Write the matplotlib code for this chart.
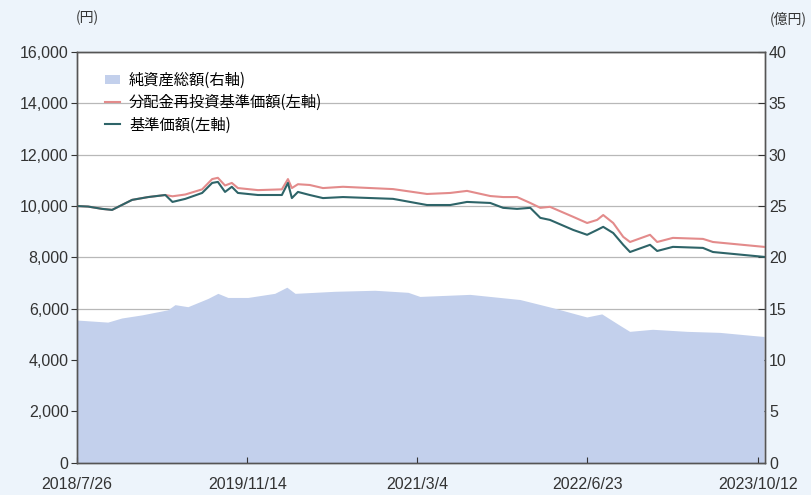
import matplotlib.pyplot as plt
import matplotlib.dates as mdates
import pandas as pd

plt.rcParams['font.family'] = ['Liberation Sans', 'Noto Sans CJK JP', 'DejaVu Sans']

# 基準価額 / 分配金再投資基準価額 (左軸, 円)
line_dates = ["2018-07-26", "2018-08-26", "2018-10-04", "2018-11-01", "2018-12-27",
              "2019-02-10", "2019-03-30", "2019-04-19", "2019-05-25", "2019-07-11",
              "2019-08-08", "2019-08-24", "2019-09-13", "2019-10-02", "2019-10-19",
              "2019-12-14", "2020-02-19", "2020-03-07", "2020-03-18", "2020-04-04",
              "2020-05-07", "2020-06-13", "2020-08-08", "2020-12-26", "2021-03-31",
              "2021-06-04", "2021-07-21", "2021-09-24", "2021-10-30", "2021-12-08",
              "2022-01-14", "2022-02-11", "2022-03-10", "2022-05-14", "2022-06-22",
              "2022-07-20", "2022-08-06", "2022-09-03", "2022-10-01", "2022-10-20",
              "2022-12-15", "2023-01-04", "2023-02-17", "2023-05-12", "2023-06-09",
              "2023-10-30"]
nav = [10000, 9980, 9890, 9850, 10240,
       10350, 10430, 10160, 10280, 10510,
       10900, 10940, 10550, 10750, 10510,
       10430, 10430, 10900, 10310, 10550,
       10430, 10310, 10350, 10280, 10040,
       10040, 10160, 10120, 9930, 9890,
       9930, 9540, 9460, 9070, 8880,
       9070, 9190, 8950, 8490, 8210,
       8490, 8250, 8410, 8370, 8210,
       8020]
nav_reinv = [10000, 9980, 9890, 9850, 10240,
             10350, 10430, 10380, 10450, 10650,
             11050, 11100, 10800, 10900, 10700,
             10620, 10650, 11050, 10700, 10850,
             10820, 10700, 10750, 10660, 10470,
             10510, 10590, 10390, 10350, 10350,
             10120, 9930, 9970, 9580, 9340,
             9460, 9650, 9340, 8800, 8600,
             8880, 8600, 8760, 8720, 8600,
             8410]

# 純資産総額 (右軸, 億円)
asset_dates = ["2018-07-26", "2018-10-20", "2018-11-28", "2019-01-23", "2019-04-06",
               "2019-04-26", "2019-06-01", "2019-07-27", "2019-08-24", "2019-09-21",
               "2019-11-16", "2020-01-30", "2020-03-04", "2020-03-27", "2020-07-16",
               "2020-11-05", "2021-02-06", "2021-03-11", "2021-07-29", "2021-12-16",
               "2022-03-18", "2022-06-21", "2022-08-02", "2022-09-21", "2022-10-19",
               "2022-12-22", "2023-03-28", "2023-06-28", "2023-09-28", "2023-10-30"]
assets = [13.9, 13.7, 14.1, 14.4, 14.9,
          15.4, 15.2, 16.0, 16.5, 16.1,
          16.1, 16.5, 17.1, 16.5, 16.7,
          16.8, 16.6, 16.2, 16.4, 15.9,
          15.1, 14.2, 14.5, 13.4, 12.8,
          13.0, 12.8, 12.7, 12.4, 12.3]

xtick_dates = ["2018-07-26", "2019-11-14", "2021-03-04", "2022-06-23", "2023-10-12"]
xtick_labels = ["2018/7/26", "2019/11/14", "2021/3/4", "2022/6/23", "2023/10/12"]

line_dates = pd.to_datetime(line_dates)
asset_dates = pd.to_datetime(asset_dates)

fig = plt.figure(figsize=(8.11, 4.95), dpi=100)
fig.patch.set_facecolor('#edf4fb')

ax = fig.add_axes([0.095, 0.065, 0.848, 0.83])
ax2 = ax.twinx()
ax.set_zorder(2)
ax2.set_zorder(1)
ax.patch.set_visible(False)
ax2.patch.set_visible(True)
ax2.patch.set_facecolor('white')

fill = ax2.fill_between(asset_dates, assets, 0, color='#c3d0ec', lw=0, label='純資産総額(右軸)')
ax2.set_ylim(0, 40)
ax2.set_yticks(range(0, 41, 5))
ax2.yaxis.grid(True, color='#b8b8b8', lw=0.9)
ax2.set_axisbelow(True)

l1, = ax.plot(line_dates, nav_reinv, color='#e38b8b', lw=1.5, label='分配金再投資基準価額(左軸)')
l2, = ax.plot(line_dates, nav, color='#2e6468', lw=1.5, label='基準価額(左軸)')

ax.set_ylim(0, 16000)
ax.set_yticks(range(0, 16001, 2000))
ax.set_yticklabels([f"{v:,}" for v in range(0, 16001, 2000)])
ax.set_xlim(pd.Timestamp("2018-07-26"), pd.Timestamp("2023-11-01"))
ax.set_xticks(pd.to_datetime(xtick_dates))
ax.set_xticklabels(xtick_labels)

ax.tick_params(axis='y', direction='out', length=4, labelsize=11.5, colors='#333333', pad=2)
ax.tick_params(axis='x', direction='in', length=4, labelsize=11.5, colors='#333333', pad=10)
ax2.tick_params(axis='y', direction='in', length=5, labelsize=11.5, colors='#333333', pad=3)
for a in (ax, ax2):
    for s in a.spines.values():
        s.set_color('#555555')
        s.set_linewidth(1.0)

ax.legend([fill, l1, l2], [fill.get_label(), l1.get_label(), l2.get_label()],
          loc='upper left', bbox_to_anchor=(0.02, 0.985), frameon=False,
          prop={'family': ['Noto Sans CJK JP'], 'size': 11},
          handlelength=1.0, handleheight=0.6, labelspacing=0.35, handletextpad=0.6)

fig.text(0.108, 0.963, '(円)', ha='center', va='center', fontsize=10,
         family=['Noto Sans CJK JP'], color='#333333')
fig.text(0.972, 0.963, '(億円)', ha='center', va='center', fontsize=10,
         family=['Noto Sans CJK JP'], color='#333333')

fig.savefig('out.png', dpi=100, facecolor=fig.get_facecolor())
